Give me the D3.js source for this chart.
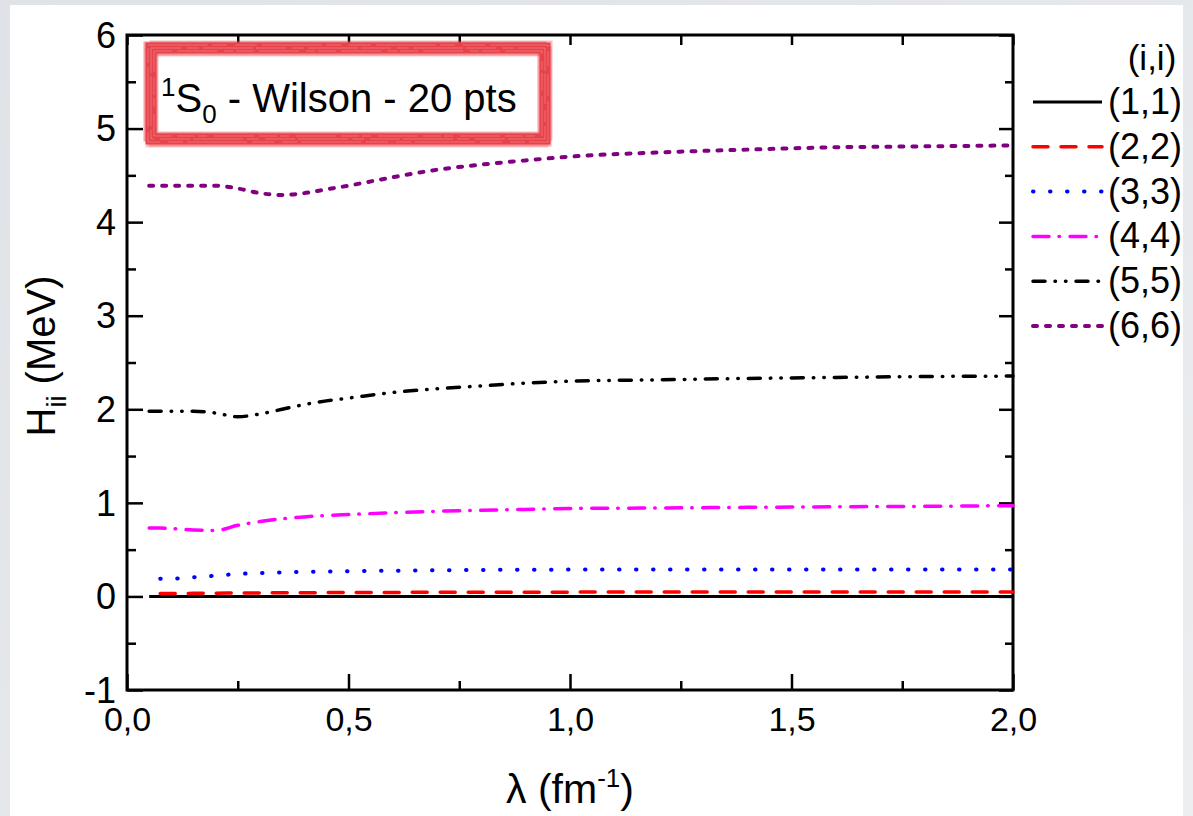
<!DOCTYPE html>
<html>
<head>
<meta charset="utf-8">
<script src="https://cdn.jsdelivr.net/npm/d3@7"></script>
<style>
  html, body { margin: 0; padding: 0; background: #e6e8eb; }
  svg { display: block; }
  text { font-family: "Liberation Sans", Arial, sans-serif; fill: #000; }
</style>
</head>
<body>
<svg id="chart" width="1193" height="816"></svg>
<script>
// lambda grid (fm^-1) shared by every series
const lambda = [0.05, 0.075, 0.1, 0.15, 0.2, 0.25, 0.3, 0.35, 0.4, 0.45, 0.5, 0.6, 0.7, 0.8, 0.9, 1.0, 1.2, 1.4, 1.6, 1.8, 2.0];

const h11 = [0, 0, 0, 0, 0, 0, 0, 0, 0, 0, 0, 0, 0, 0, 0, 0, 0, 0, 0, 0, 0];
const h22 = [null, 0.03, 0.031, 0.033, 0.035, 0.036, 0.038, 0.039, 0.04, 0.041, 0.042, 0.043, 0.044, 0.045, 0.045, 0.046, 0.046, 0.046, 0.047, 0.047, 0.047];
const h33 = [null, 0.19, 0.19, 0.205, 0.222, 0.24, 0.25, 0.257, 0.262, 0.266, 0.27, 0.275, 0.28, 0.283, 0.285, 0.287, 0.288, 0.288, 0.289, 0.289, 0.289];
const h44 = [0.73, 0.73, 0.725, 0.71, 0.705, 0.76, 0.8, 0.83, 0.85, 0.865, 0.875, 0.895, 0.91, 0.92, 0.93, 0.94, 0.945, 0.952, 0.958, 0.963, 0.97];
const h55 = [1.98, 1.98, 1.98, 1.98, 1.96, 1.92, 1.95, 2.0, 2.05, 2.09, 2.12, 2.18, 2.22, 2.25, 2.28, 2.3, 2.315, 2.33, 2.34, 2.35, 2.355];
const h66 = [4.39, 4.39, 4.39, 4.39, 4.39, 4.36, 4.31, 4.29, 4.31, 4.35, 4.39, 4.48, 4.56, 4.615, 4.66, 4.7, 4.745, 4.775, 4.8, 4.81, 4.82];

const seriesNames = ['(1,1)', '(2,2)', '(3,3)', '(4,4)', '(5,5)', '(6,6)'];
const seriesValues = [h11, h22, h33, h44, h55, h66];
const seriesColors = ['#000000', '#ff0000', '#0000ff', '#ff00ff', '#000000', '#800080'];
const seriesDash = ['none', '15,13', '0.5,16.5', '16,10,0.5,10.5', '12,10,0.5,10,0.5,10', '4,9'];
const seriesWidth = [3, 3.5, 4, 3.5, 3.5, 4];

const yTicks = [-1, 0, 1, 2, 3, 4, 5, 6];
const xTicks = [0, 0.5, 1.0, 1.5, 2.0];

const svg = d3.select('#chart');

// page background: grey frame + white panel
const defs = svg.append('defs');
const grad = defs.append('linearGradient').attr('id', 'bg').attr('x1', 0).attr('y1', 0).attr('x2', 1).attr('y2', 1);
grad.append('stop').attr('offset', '0%').attr('stop-color', '#dfe2e6');
grad.append('stop').attr('offset', '100%').attr('stop-color', '#eceef0');
svg.append('rect').attr('width', 1193).attr('height', 816).attr('fill', 'url(#bg)');
svg.append('rect').attr('x', 10).attr('y', 5).attr('width', 1173).attr('height', 811).attr('fill', '#fff');

const m = { left: 127, right: 1013, top: 35, bottom: 690 };
const x = d3.scaleLinear().domain([0, 2]).range([m.left, m.right]);
const y = d3.scaleLinear().domain([-1, 6]).range([m.bottom, m.top]);

const comma = v => d3.format('.1f')(v).replace('.', ',');
const plainInt = v => String(v);

function styleAxis(g) {
  g.select('.domain').remove();
  g.selectAll('.tick line').attr('stroke', '#000').attr('stroke-width', 2.5);
}
// left / right: major + minor
svg.append('g').attr('transform', `translate(${m.left},0)`)
  .call(d3.axisLeft(y).tickValues(yTicks).tickSize(-16).tickPadding(11).tickFormat(plainInt))
  .call(styleAxis)
  .call(g => g.selectAll('.tick text').attr('font-size', 36).attr('font-family', 'Liberation Sans, Arial, sans-serif').attr('dy', '0.34em'));
svg.append('g').attr('transform', `translate(${m.left},0)`)
  .call(d3.axisLeft(y).tickValues(d3.range(-0.5, 6, 1)).tickSize(-9).tickFormat(''))
  .call(styleAxis);
svg.append('g').attr('transform', `translate(${m.right},0)`)
  .call(d3.axisRight(y).tickValues(yTicks).tickSize(-14).tickFormat(''))
  .call(styleAxis);
svg.append('g').attr('transform', `translate(${m.right},0)`)
  .call(d3.axisRight(y).tickValues(d3.range(-0.5, 6, 1)).tickSize(-8).tickFormat(''))
  .call(styleAxis);

// bottom major + minor, top all quarter ticks
svg.append('g').attr('transform', `translate(0,${m.bottom})`)
  .call(d3.axisBottom(x).tickValues(xTicks).tickSize(-16).tickPadding(15).tickFormat(comma))
  .call(styleAxis)
  .call(g => g.selectAll('.tick text').attr('font-size', 34).attr('font-family', 'Liberation Sans, Arial, sans-serif').attr('dy', '0.75em'));
svg.append('g').attr('transform', `translate(0,${m.bottom})`)
  .call(d3.axisBottom(x).tickValues(d3.range(0.25, 2, 0.5)).tickSize(-9).tickFormat(''))
  .call(styleAxis);
svg.append('g').attr('transform', `translate(0,${m.top})`)
  .call(d3.axisTop(x).tickValues(d3.range(0, 2.01, 0.25)).tickSize(-10).tickFormat(''))
  .call(styleAxis);

// frame
svg.append('rect').attr('x', m.left).attr('y', m.top).attr('width', m.right - m.left).attr('height', m.bottom - m.top)
  .attr('fill', 'none').attr('stroke', '#000').attr('stroke-width', 3);

// curves
const line = d3.line()
  .defined(d => d[1] !== null)
  .x(d => x(d[0]))
  .y(d => y(d[1]))
  .curve(d3.curveMonotoneX);

const curves = svg.append('g').attr('id', 'lines');
seriesValues.forEach((vals, i) => {
  curves.append('path')
    .attr('d', line(lambda.map((l, k) => [l, vals[k]])))
    .attr('fill', 'none')
    .attr('stroke', seriesColors[i])
    .attr('stroke-width', seriesWidth[i])
    .attr('stroke-dasharray', seriesDash[i])
    .attr('stroke-linecap', i === 0 ? 'butt' : 'round');
});

// legend
const legend = svg.append('g').attr('id', 'legend');
legend.append('text').attr('x', 1152).attr('y', 70).attr('text-anchor', 'middle')
  .attr('font-size', 35).text('(i,i)');
const rowY = d3.scaleLinear().domain([0, 5]).range([102, 326]);
seriesNames.forEach((name, i) => {
  legend.append('line')
    .attr('x1', 1033).attr('x2', 1102)
    .attr('y1', rowY(i)).attr('y2', rowY(i))
    .attr('stroke', seriesColors[i])
    .attr('stroke-width', seriesWidth[i])
    .attr('stroke-dasharray', seriesDash[i])
    .attr('stroke-linecap', i === 0 ? 'butt' : 'round');
  legend.append('text').attr('x', 1108).attr('y', rowY(i) + 12)
    .attr('font-size', 36).text(name);
});

// title box with rough red frame
const box = svg.append('g').attr('id', 'title-box');
box.append('rect').attr('x', 151).attr('y', 48).attr('width', 394).attr('height', 91)
  .attr('fill', '#fff').attr('stroke', '#e8434b').attr('stroke-width', 11);
[[-3, -2, 0.5], [2, 3, 0.4], [-1, 4, 0.3], [3, -3, 0.35]].forEach(([dx, dy, op]) => {
  box.append('rect').attr('x', 151 + dx).attr('y', 48 + dy).attr('width', 394).attr('height', 91)
    .attr('fill', 'none').attr('stroke', '#e8434b').attr('stroke-width', 9).attr('opacity', op);
});
// faint streaks for the scratchy texture
[[0, '30,6,12,4,50,3'], [3, '18,5,40,7,9,3'], [-3, '60,4,15,8,22,5']].forEach(([off, dash]) => {
  box.append('rect').attr('x', 151 + off).attr('y', 48 + off).attr('width', 394 - 2 * off).attr('height', 91 - 2 * off)
    .attr('fill', 'none').attr('stroke', '#fff').attr('stroke-width', 0.7).attr('opacity', 0.35)
    .attr('stroke-dasharray', dash);
});
const title = box.append('text').attr('x', 161).attr('y', 112).attr('font-size', 40);
title.append('tspan').attr('font-size', 26).attr('dy', -16).text('1');
title.append('tspan').attr('dy', 16).text('S');
title.append('tspan').attr('font-size', 26).attr('dy', 11).text('0');
title.append('tspan').attr('dy', -11).text(' - Wilson - 20 pts');

// axis titles
const xt = svg.append('text').attr('x', 570).attr('y', 803).attr('text-anchor', 'middle').attr('font-size', 41);
xt.append('tspan').text('λ (fm');
xt.append('tspan').attr('font-size', 26).attr('dy', -16).text('-1');
xt.append('tspan').attr('dy', 16).text(')');

const yt = svg.append('text').attr('transform', 'translate(55,356) rotate(-90)').attr('text-anchor', 'middle').attr('font-size', 40);
yt.append('tspan').text('H');
yt.append('tspan').attr('font-size', 27).attr('dy', 11).text('ii');
yt.append('tspan').attr('dy', -11).text(' (MeV)');
</script>
</body>
</html>
